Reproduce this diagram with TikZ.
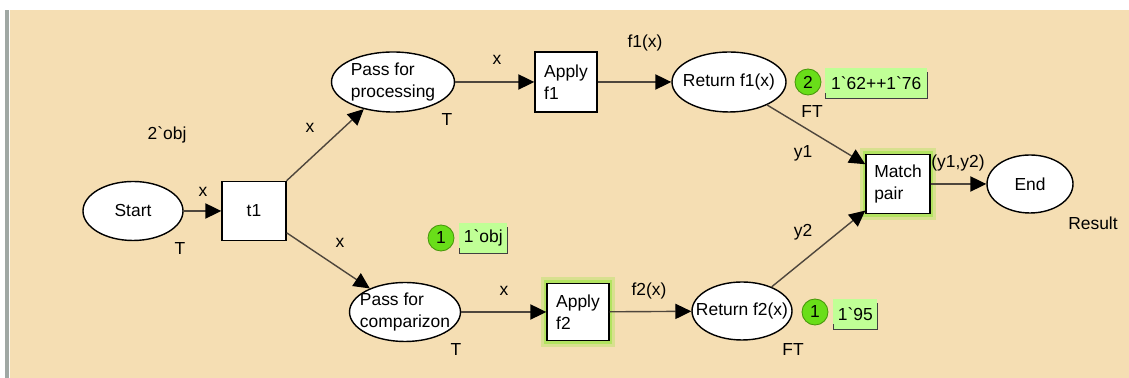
\documentclass[tikz,border=0pt]{standalone}
\usepackage{fontspec}
\setmainfont{Liberation Sans}
\usetikzlibrary{arrows.meta,shapes.geometric}

\definecolor{cpnbg}{RGB}{245,222,179}
\definecolor{cpnbar}{RGB}{160,168,164}
\definecolor{cpnarc}{RGB}{78,70,60}
\definecolor{tokgreen}{RGB}{105,222,25}
\definecolor{tokedge}{RGB}{70,150,10}
\definecolor{markfill}{RGB}{192,255,150}
\definecolor{glowgreen}{RGB}{150,230,60}

\newcommand{\bq}{\textasciigrave}

\begin{document}
\begin{tikzpicture}[
	every node/.style={font=\fontsize{12.4}{15.6}\selectfont},
	place/.style={draw, ellipse, fill=white, line width=1pt, inner xsep=-0.3cm, inner ysep=-0.1cm, align=left},
	trans/.style={draw, rectangle, fill=white, line width=1pt, inner sep=0pt, align=left},
	enabled/.style={preaction={draw=glowgreen, line width=0.32cm, opacity=0.3},
		preaction={draw=glowgreen, line width=0.16cm, opacity=0.55}},
	arc/.style={draw=cpnarc, line width=1pt, -{Triangle[length=0.4cm, width=0.38cm, color=black]}},
	tok/.style={circle, draw=tokedge, fill=tokgreen, line width=0.6pt, inner sep=0pt, minimum size=0.65cm},
	markbox/.style={fill=markfill, inner sep=1pt, minimum height=0.75cm, anchor=west},
	lbl/.style={inner sep=1pt}
]
	% Background
	\useasboundingbox (0, 0) rectangle (28.225, 9.45);
	\fill[cpnbg] (0.25, 0) rectangle (28.225, 9.2);
	\fill[cpnbar] (0.125, 0) rectangle (0.225, 9.2);

	% Places
	\node[place, minimum width=2.5cm, minimum height=1.475cm] (start) at (3.325, 4.175) {Start};
	\node[place, minimum width=3.075cm, minimum height=1.5cm] (proc) at (9.825, 7.4) {Pass for\\processing};
	\node[place, minimum width=2.775cm, minimum height=1.475cm] (comp) at (10.125, 1.65) {Pass for\\comparizon};
	\node[place, minimum width=2.85cm, minimum height=1.5cm] (ret1) at (18.225, 7.4) {Return f1(x)};
	\node[place, minimum width=2.5cm, minimum height=1.45cm] (ret2) at (18.55, 1.675) {Return f2(x)};
	\node[place, minimum width=2.15cm, minimum height=1.45cm] (endp) at (25.75, 4.85) {End};

	% Transitions
	\node[trans, minimum width=1.6cm, minimum height=1.475cm] (t1) at (6.35, 4.175) {t1};
	\node[trans, minimum width=1.55cm, minimum height=1.5cm] (app1) at (14.15, 7.4) {Apply\\f1};
	\node[trans, enabled, minimum width=1.55cm, minimum height=1.425cm] (app2) at (14.45, 1.65) {Apply\\f2};
	\node[trans, enabled, minimum width=1.6cm, minimum height=1.475cm] (match) at (22.45, 4.85) {Match\\pair};

	% Arcs
	\draw[arc] (start) -- (t1);
	\draw[arc] (t1) -- (proc);
	\draw[arc] (t1) -- (comp);
	\draw[arc] (proc) -- (app1);
	\draw[arc] (app1) -- (ret1);
	\draw[arc] (comp) -- (app2);
	\draw[arc] (app2) -- (ret2);
	\draw[arc] (ret1) -- (match);
	\draw[arc] (ret2) -- (match);
	\draw[arc] (match) -- (endp);

	% Arc inscriptions
	\node[lbl] (xstart) at (5.075, 4.65) {x};
	\node[lbl] (xup) at (7.75, 6.25) {x};
	\node[lbl] (xdown) at (8.5, 3.375) {x};
	\node[lbl] (xproc) at (12.425, 7.95) {x};
	\node[lbl] (fone) at (16.125, 8.375) {f1(x)};
	\node[lbl] (xcomp) at (12.6, 2.175) {x};
	\node[lbl] (ftwo) at (16.225, 2.175) {f2(x)};
	\node[lbl] (yone) at (20.075, 5.625) {y1};
	\node[lbl] (ytwo) at (20.075, 3.65) {y2};
	\node[lbl] (pair) at (23.95, 5.375) {(y1,y2)};

	% Colour sets and initial marking
	\node[lbl] (init) at (4.175, 6.075) {2\bq obj};
	\node[lbl] (tstart) at (4.5, 3.225) {T};
	\node[lbl] (tproc) at (11.175, 6.45) {T};
	\node[lbl] (tcomp) at (11.4, 0.7) {T};
	\node[lbl] (ftone) at (20.3, 6.65) {FT};
	\node[lbl] (fttwo) at (19.825, 0.7) {FT};
	\node[lbl] (res) at (27.325, 3.875) {Result};

	% Current markings
	\node[tok] (tokcomp) at (11.025, 3.5) {1};
	\node[markbox, minimum width=1.2cm] (markcomp) at (11.475, 3.5) {1\bq obj};
	\node[tok] (tokret1) at (20.2, 7.4) {2};
	\node[markbox, minimum width=2.55cm] (markret1) at (20.625, 7.375) {1\bq 62++1\bq 76};
	\node[tok] (tokret2) at (20.375, 1.65) {1};
	\node[markbox, minimum width=1.1cm] (markret2) at (20.825, 1.6) {1\bq 95};
	\foreach \m in {markcomp, markret1, markret2}
		\draw[black!75, line width=0.6pt] ([yshift=0.12cm]\m.south west) -- (\m.south west)
			-- (\m.south east) -- ([yshift=-0.1cm]\m.north east);
\end{tikzpicture}
\end{document}
